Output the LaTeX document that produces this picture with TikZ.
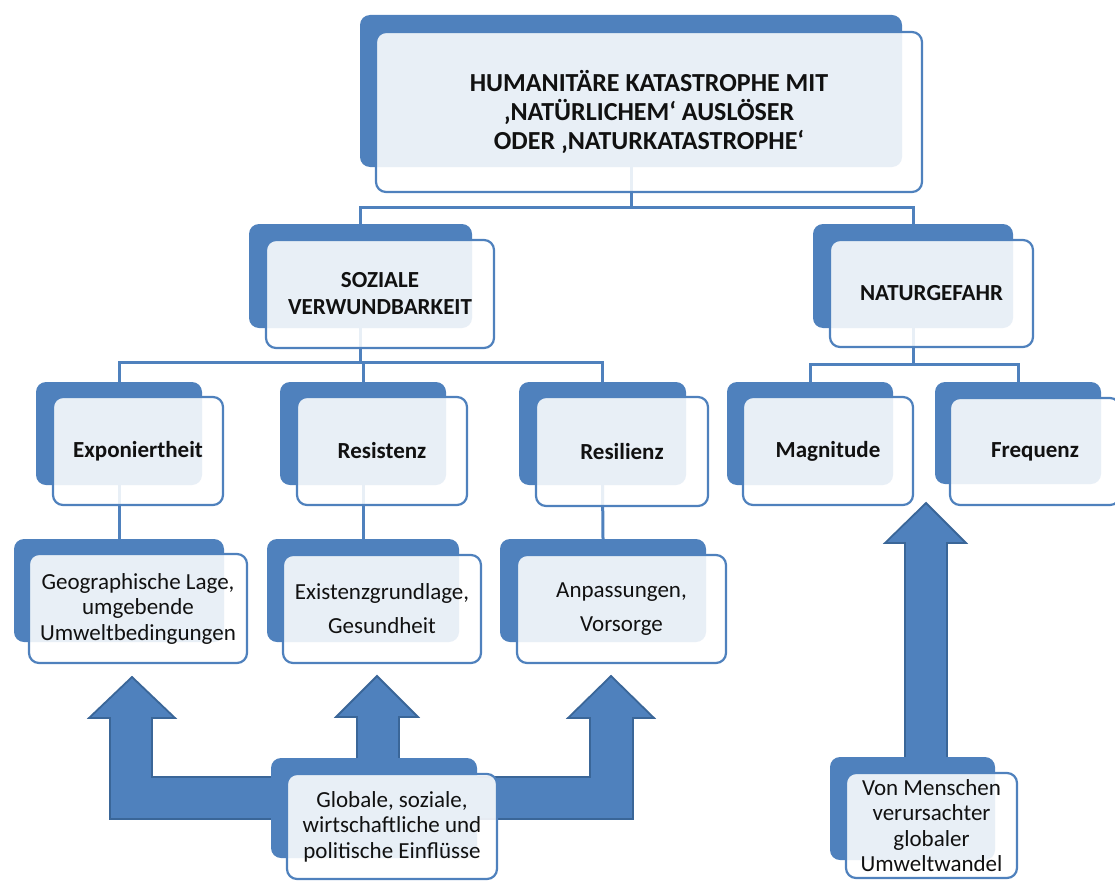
\documentclass[tikz,border=0pt]{standalone}
\usepackage{fontspec}
\setmainfont{Carlito}
\usetikzlibrary{fit}
\definecolor{bblue}{HTML}{4F81BD}
\definecolor{dblue}{HTML}{3A6698}
\definecolor{ink}{HTML}{111111}
\pgfdeclarelayer{bg}
\pgfdeclarelayer{mid}
\pgfsetlayers{bg,mid,main}
\tikzset{
  backbox/.style={fill=bblue, draw=none, rounded corners=10pt, inner sep=0pt},
  frontbox/.style={fill=white, fill opacity=0.875, draw=bblue, line width=2.2pt, rounded corners=10pt, inner sep=0pt},
  headtxt/.style={font=\bfseries\fontsize{26}{29}\selectfont, align=center, text=ink, inner sep=0pt},
  subtxt/.style={font=\bfseries\fontsize{23}{27}\selectfont, align=center, text=ink, inner sep=0pt},
  lvltxt/.style={font=\bfseries\fontsize{23}{27}\selectfont, align=center, text=ink, inner sep=0pt},
  leaftxt/.style={font=\fontsize{23}{25.5}\selectfont, align=center, text=ink, inner sep=0pt},
  leafwide/.style={font=\fontsize{23}{34}\selectfont, align=center, text=ink, inner sep=0pt},
  link/.style={draw=bblue, line width=3pt},
  blockarrow/.style={fill=bblue, draw=dblue, line width=1.8pt, line join=miter},
}
% #1 name, #2 back NW, #3 back SE, #4 front NW, #5 front SE, #6 text style, #7 text
\newcommand\dbox[7]{%
  \begin{pgfonlayer}{mid}
    \path (#2) coordinate (#1-b1) (#3) coordinate (#1-b2);
    \node[backbox, fit=(#1-b1)(#1-b2)] (#1B) {};
  \end{pgfonlayer}
  \path (#4) coordinate (#1-f1) (#5) coordinate (#1-f2);
  \node[frontbox, fit=(#1-f1)(#1-f2)] (#1) {};
  \node[#6] (#1T) at (#1.center) {#7};
}
\begin{document}
\begin{tikzpicture}[x=1pt,y=-1pt]
\useasboundingbox (0,0) rectangle (1115,880);

\dbox{top}{360,15}{902,167}{376,32}{922,192}{headtxt}{HUMANITÄRE KATASTROPHE MIT\\‚NATÜRLICHEM‘ AUSLÖSER\\ODER ‚NATURKATASTROPHE‘}
\dbox{soz}{249,224}{472,328}{266,240}{494,348}{subtxt}{SOZIALE\\VERWUNDBARKEIT}
\dbox{nat}{813,224}{1013,328}{830,240}{1033,347}{subtxt}{NATURGEFAHR}
\dbox{expo}{36,382}{202,485}{53,397}{223,505}{lvltxt}{Exponiertheit}
\dbox{resi}{280,382}{446,485}{297,397}{467,505}{lvltxt}{Resistenz}
\dbox{resl}{519,382}{686,485}{536,397}{708,506}{lvltxt}{Resilienz}
\dbox{magn}{727,382}{893,485}{743,397}{913,505}{lvltxt}{Magnitude}
\dbox{freq}{935,382}{1101,484}{950,398}{1120,505}{lvltxt}{Frequenz}
\dbox{geo}{14,539}{224,642}{29,554}{247,663}{leaftxt}{Geographische Lage,\\umgebende\\Umweltbedingungen}
\dbox{exis}{267,539}{459,642}{283,555}{481,663}{leafwide}{Existenzgrundlage,\\Gesundheit}
\dbox{anp}{500,539}{706,642}{517,555}{726,663}{leafwide}{Anpassungen,\\Vorsorge}
\dbox{glob}{271,758}{477,858}{287,774}{497,879}{leaftxt}{Globale, soziale,\\wirtschaftliche und\\politische Einflüsse}
\dbox{mensch}{830,757}{995,860}{846,773}{1017,878}{leaftxt}{Von Menschen\\verursachter\\globaler\\Umweltwandel}

\begin{pgfonlayer}{bg}
  % connectors
  \coordinate (j1) at (0,207);
  \coordinate (j2) at (0,362);
  \coordinate (j3) at (0,364);
  \draw[link] (topB.south) -- (topB.south |- j1);
  \draw[link] (sozB.north) |- (natB.north |- j1) -- (natB.north);
  \draw[link] (sozB.south) -- (sozB.south |- j2);
  \draw[link] (expoB.north) |- (reslB.north |- j2) -- (reslB.north);
  \draw[link] (resiB.north) -- (resiB.north |- j2);
  \draw[link] (natB.south) -- (natB.south |- j3);
  \draw[link] (magnB.north) |- (freqB.north |- j3) -- (freqB.north);
  \draw[link] (expoB.south) -- (geoB.north);
  \draw[link] (resiB.south) -- (exisB.north);
  \draw[link] (reslB.south) -- (anpB.north);
  % block arrows
  \draw[blockarrow] (132,677) -- (175,718) -- (152,718) -- (152,777) -- (285,777)
     -- (285,819) -- (110,819) -- (110,718) -- (89,718) -- cycle;
  \draw[blockarrow] (377,676) -- (418,717) -- (399,717) -- (399,770) -- (357,770)
     -- (357,717) -- (336,717) -- cycle;
  \draw[blockarrow] (611,676) -- (654,718) -- (633,718) -- (633,819) -- (470,819)
     -- (470,777) -- (590,777) -- (590,718) -- (568,718) -- cycle;
  \draw[blockarrow] (926,503) -- (966,543) -- (947,543) -- (947,770) -- (905,770)
     -- (905,543) -- (885,543) -- cycle;
\end{pgfonlayer}
\end{tikzpicture}
\end{document}
